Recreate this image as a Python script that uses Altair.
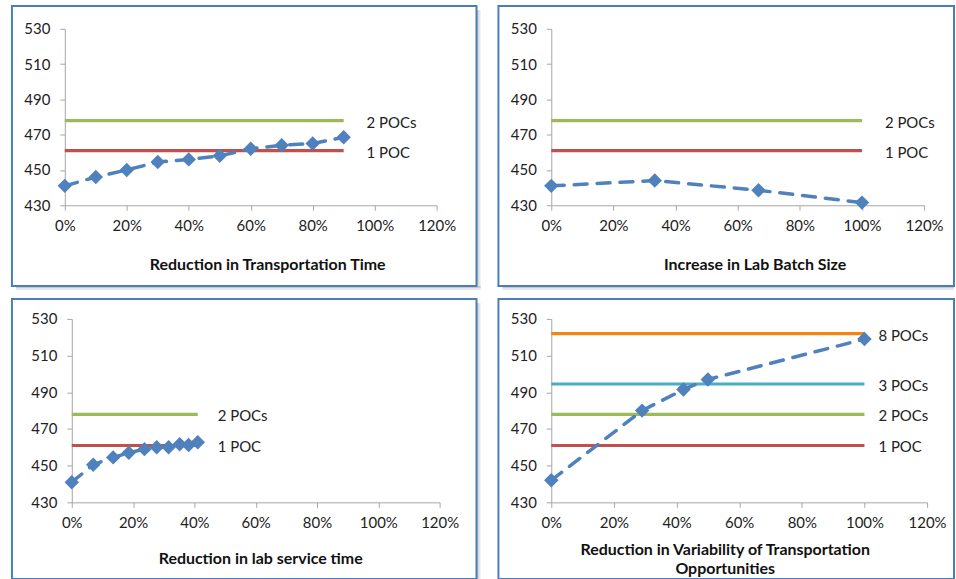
import altair as alt
import pandas as pd

# ---- series values ----------------------------------------------------------
transport_x = [0.0, 0.1, 0.2, 0.3, 0.4, 0.5, 0.6, 0.7, 0.8, 0.9]
transport_y = [441, 446, 450, 454.5, 456, 458, 462, 464, 465, 468.5]

batch_x = [0.0, 0.333, 0.667, 1.0]
batch_y = [441, 444, 438.5, 431.5]

service_x = [0.0, 0.07, 0.135, 0.186, 0.237, 0.277, 0.316, 0.352, 0.381, 0.411]
service_y = [441, 450.5, 454.5, 457, 459, 460, 460, 461.7, 461.3, 462.8]

variability_x = [0.0, 0.29, 0.422, 0.5, 1.0]
variability_y = [442, 480, 491.5, 497, 519]

# POC capacity levels
poc_names = ["1 POC", "2 POCs", "3 POCs", "8 POCs"]
poc_levels = [461, 478, 494.5, 522]
poc_colors = ["#c0504d", "#9bbb59", "#4bacc6", "#f0861a"]

x_ticks = [0.0, 0.2, 0.4, 0.6, 0.8, 1.0, 1.2]
y_ticks = [430, 450, 470, 490, 510, 530]

FONT = "Lato"
FRAME = "#4a7ebb"
AXIS_GRAY = "#a6a6a6"
SERIES_BLUE = "#4f81bd"
FRAME_LEFT = 53  # frame edge to the left of each panel's origin
SHADOW = 4       # drop-shadow width outside the frames


def shadow_strips(x0, x1, y0, y1, sx, sy):
    """Gray strips along the right and bottom edges of a frame."""
    one = pd.DataFrame({"f": [0]})
    layers = []
    for off, col in ((sx, "#e6e6e6"), (min(sx, 2), "#c9c9c9")):
        if off > 0:
            layers.append(alt.Chart(one).mark_rect(fill=col).encode(
                x=alt.value(x1), x2=alt.value(x1 + off),
                y=alt.value(y0 + SHADOW), y2=alt.value(y1 + sy),
            ))
    for off, col in ((sy, "#e6e6e6"), (min(sy, 2), "#c9c9c9")):
        if off > 0:
            layers.append(alt.Chart(one).mark_rect(fill=col).encode(
                x=alt.value(x0 + SHADOW), x2=alt.value(x1 + sx),
                y=alt.value(y1), y2=alt.value(y1 + off),
            ))
    return layers


def panel(xs, ys, n_poc, line_end, title, W, H, shift, T, R, B,
          label_dx, title_x, title_y, shadow_x, shadow_y):
    """One framed panel; the plot area starts `shift` px right of the origin."""
    names = poc_names[:n_poc]
    levels = poc_levels[:n_poc]
    GW = W + shift

    x_scale = alt.Scale(domain=[0, 1.2], range=[shift, GW], nice=False, zero=False)
    y_scale = alt.Scale(domain=[430, 530], nice=False, zero=False)

    x_axis = alt.Axis(
        values=x_ticks, format=".0%", title=title, grid=False,
        labelFont=FONT, labelFontSize=15, labelColor="#222222", labelPadding=8,
        labelFlush=False, labelOverlap=False,
        tickSize=5, tickColor=AXIS_GRAY, domainColor=AXIS_GRAY,
        titleFont=FONT, titleFontSize=16, titleFontWeight="bold",
        titleColor="#111111", titleX=title_x, titleY=title_y,
        titleAlign="center", titleBaseline="middle", titleLineHeight=19,
    )
    y_axis = alt.Axis(
        values=y_ticks, title=None, grid=False, offset=-shift,
        labelFont=FONT, labelFontSize=15, labelColor="#222222", labelPadding=10,
        labelFlush=False, labelOverlap=False,
        tickSize=5, tickColor=AXIS_GRAY, domainColor=AXIS_GRAY,
    )
    X = alt.X("x:Q", scale=x_scale, axis=x_axis)
    Y = alt.Y("y:Q", scale=y_scale, axis=y_axis)

    ref_rows = []
    for nm, lv in zip(names, levels):
        ref_rows.append({"name": nm, "x": 0.0, "y": lv})
        ref_rows.append({"name": nm, "x": line_end, "y": lv})
    ref_df = pd.DataFrame(ref_rows)
    lab_df = pd.DataFrame({"name": names, "x": [line_end] * n_poc, "y": levels})
    ser_df = pd.DataFrame({"x": xs, "y": ys})

    color = alt.Color("name:N",
                      scale=alt.Scale(domain=poc_names, range=poc_colors),
                      legend=None)

    fx0, fx1, fy0, fy1 = -FRAME_LEFT, GW + R, -T, H + B
    frame = alt.Chart(pd.DataFrame({"f": [0]})).mark_rect(
        fillOpacity=0, stroke=FRAME, strokeWidth=2
    ).encode(
        x=alt.value(fx0), x2=alt.value(fx1),
        y=alt.value(fy0), y2=alt.value(fy1),
    )

    refs = alt.Chart(ref_df).mark_line(strokeWidth=3.2).encode(
        x=X, y=Y, color=color, detail="name:N",
    )

    series = alt.Chart(ser_df).mark_line(
        color=SERIES_BLUE, strokeWidth=3.5, strokeDash=[13, 10], strokeCap="round"
    ).encode(x=X, y=Y)

    points = alt.Chart(ser_df).mark_point(
        shape="diamond", filled=True, size=210, color=SERIES_BLUE, opacity=1
    ).encode(x=X, y=Y)

    labels = alt.Chart(lab_df).mark_text(
        align="left", baseline="middle", dx=label_dx, dy=2,
        font=FONT, fontSize=15, color="#222222"
    ).encode(x=X, y=Y, text="name:N")

    layers = shadow_strips(fx0, fx1, fy0, fy1, shadow_x, shadow_y)
    layers += [frame, refs, series, points, labels]
    return alt.layer(*layers).properties(width=GW, height=H)


p1 = panel(transport_x, transport_y, 2, 0.9, "Reduction in Transportation Time",
           W=373, H=177, shift=0, T=23, R=40, B=81,
           label_dx=23, title_x=203, title_y=59, shadow_x=SHADOW, shadow_y=SHADOW)
p2 = panel(batch_x, batch_y, 2, 1.0, "Increase in Lab Batch Size",
           W=374, H=177, shift=0, T=23, R=30, B=81,
           label_dx=23, title_x=204, title_y=59, shadow_x=0, shadow_y=SHADOW)
p3 = panel(service_x, service_y, 2, 0.411, "Reduction in lab service time",
           W=369, H=184, shift=7, T=20, R=37, B=77,
           label_dx=20, title_x=196, title_y=56, shadow_x=SHADOW, shadow_y=0)
p4 = panel(variability_x, variability_y, 4, 1.0,
           ["Reduction in Variability of Transportation", "Opportunities"],
           W=377, H=184, shift=0, T=20, R=27, B=77,
           label_dx=14, title_x=174, title_y=47, shadow_x=0, shadow_y=0)

chart = alt.vconcat(
    alt.hconcat(p1, p2, spacing=19 - SHADOW),
    alt.hconcat(p3, p4, spacing=19 - SHADOW),
    spacing=10 - SHADOW,
).properties(
    padding={"left": 10, "top": 3, "right": 0, "bottom": 0},
    background="white",
).configure_view(stroke="transparent")

chart.save("out.html", embed_options={"renderer": "svg", "actions": False})
